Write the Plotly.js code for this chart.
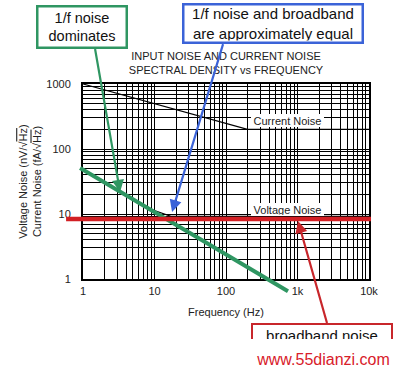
<!DOCTYPE html>
<html><head><meta charset="utf-8">
<script src="https://cdn.plot.ly/plotly-3.0.1.min.js"></script>
<style>html,body{margin:0;padding:0;background:#fff;}#chart{width:396px;height:368px;}</style>
</head><body><div id="chart"></div>
<script>
// ---- data ----
const currentFreq = [1, 200, 10000];
const currentNoise = [1000, 200, 200];
const voltageFreq = [1, 9.5, 17, 10000];
const voltageNoise = [47, 11.5, 9.2, 9.2];
const flickerFreq = [0.91, 30, 736];
const flickerNoise = [51, 5.25, 0.65];
const broadbandFreq = [0.58, 100, 10660];
const broadbandNoise = [8.4, 8.4, 8.4];
const xTickLabels = ['1', '10', '100', '1k', '10k'];
const yTickLabels = ['1', '10', '100', '1000'];
const calloutFreq = [3.3, 17.6, 1016];
const calloutNoise = [21.8, 10.7, 7.8];
const calloutText = ['1/f noise<br>dominates', '1/f noise and broadband<br>are approximately equal', 'broadband noise'];
const curveLabelFreq = [736, 736];
const curveLabelNoise = [270, 11.9];
const curveLabelText = ['Current Noise', 'Voltage Noise'];

const FONT = 'Arial, "Liberation Sans", sans-serif';
const GREEN = '#2f9662', BLUE = '#3b63d8', RED = '#d21f24';

function logTicks(labels) {
  const vals = [], text = [];
  for (let d = 0; d < labels.length - 1; d++) {
    for (let m = 1; m <= 9; m++) { vals.push(m * Math.pow(10, d)); text.push(m === 1 ? labels[d] : ''); }
  }
  vals.push(Math.pow(10, labels.length - 1)); text.push(labels[labels.length - 1]);
  return {vals, text};
}
const xt = logTicks(xTickLabels), yt = logTicks(yTickLabels);

const traces = [
  {x: currentFreq, y: currentNoise, type: 'scatter', mode: 'lines', line: {color: '#000', width: 1.2}, hoverinfo: 'skip'},
  {x: voltageFreq, y: voltageNoise, type: 'scatter', mode: 'lines', line: {color: '#000', width: 1.2}, hoverinfo: 'skip'}
];

function segLine(fx, fy, hi, ti, color, width) {
  return {x: fx[hi], y: fy[hi], xref: 'x', yref: 'y', ax: fx[ti], ay: fy[ti], axref: 'x', ayref: 'y',
    text: '', showarrow: true, arrowhead: 0, arrowwidth: width, arrowcolor: color, standoff: 0,
    borderpad: 0, borderwidth: 0};
}
function lg(v) { return Math.log10(v); }

const annotations = [];
// curve labels
for (let i = 0; i < curveLabelText.length; i++) {
  annotations.push({x: lg(curveLabelFreq[i]), y: lg(curveLabelNoise[i]), xref: 'x', yref: 'y', text: curveLabelText[i],
    xanchor: 'center', yanchor: 'middle',
    showarrow: false, bgcolor: '#fff', borderpad: 1, borderwidth: 0, width: 71, height: 11,
    font: {family: FONT, size: 11, color: '#222'}});
}
// green 1/f line and red broadband line (unclipped, through the axis scales)
const fxl = flickerFreq.map(lg), fyl = flickerNoise.map(lg);
annotations.push(segLine(fxl, fyl, 1, 0, GREEN, 4));
annotations.push(segLine(fxl, fyl, 1, 2, GREEN, 4));
const bxl = broadbandFreq.map(lg), byl = broadbandNoise.map(lg);
annotations.push(segLine(bxl, byl, 1, 0, RED, 4.5));
annotations.push(segLine(bxl, byl, 1, 2, RED, 4.5));
// callout arrows
const arrowTail = [[-25, -143], [51, -168], [29, 102]];
const arrowColor = [GREEN, BLUE, '#c8262b'];
for (let i = 0; i < 3; i++) {
  annotations.push({x: lg(calloutFreq[i]), y: lg(calloutNoise[i]), xref: 'x', yref: 'y', text: '',
    showarrow: true, ax: arrowTail[i][0], ay: arrowTail[i][1], arrowhead: 2, arrowsize: 1.1,
    arrowwidth: 2.2, arrowcolor: arrowColor[i], standoff: 0, borderpad: 0, borderwidth: 0});
}
// callout boxes (paper coordinates: plot area x 83..369, y 84..279)
function px(x) { return (x - 83) / 286; }
function py(y) { return (279 - y) / 195; }
annotations.push({x: px(82), y: py(27), xref: 'paper', yref: 'paper', xanchor: 'center', yanchor: 'middle',
  text: calloutText[0], showarrow: false,
  width: 85, height: 37, bordercolor: GREEN, borderwidth: 2.5, borderpad: 1, bgcolor: '#fff',
  font: {family: FONT, size: 14.5, color: '#111'}});
annotations.push({x: px(273), y: py(23.5), xref: 'paper', yref: 'paper', xanchor: 'center', yanchor: 'middle',
  text: calloutText[1], showarrow: false,
  width: 175, height: 34, bordercolor: BLUE, borderwidth: 2.5, borderpad: 1, bgcolor: '#fff',
  font: {family: FONT, size: 15, color: '#111'}});
annotations.push({x: px(322), y: py(323), xref: 'paper', yref: 'paper', xanchor: 'center', yanchor: 'top',
  text: calloutText[2], showarrow: false,
  width: 134, height: 36, valign: 'top', bordercolor: '#c8262b', borderwidth: 2, borderpad: 2, bgcolor: '#fff',
  font: {family: FONT, size: 15, color: '#111'}});
// watermark strip
annotations.push({x: px(323), y: py(339), xref: 'paper', yref: 'paper', xanchor: 'center', yanchor: 'top',
  text: 'www.55dianzi.com', showarrow: false,
  width: 150, height: 29, valign: 'bottom', borderpad: 0, borderwidth: 0, bgcolor: '#fff',
  font: {family: FONT, size: 16, color: '#d8202a'}});

const layout = {
  width: 396, height: 368,
  margin: {l: 83, r: 27, t: 84, b: 89, pad: 0},
  paper_bgcolor: '#fff', plot_bgcolor: '#fff',
  showlegend: false,
  font: {family: FONT, size: 11, color: '#222'},
  title: {text: 'INPUT NOISE AND CURRENT NOISE<br>SPECTRAL DENSITY vs FREQUENCY',
    font: {family: FONT, size: 11, color: '#222'}, x: 226 / 396, xref: 'container', xanchor: 'center',
    y: 1 - 60 / 368, yref: 'container', yanchor: 'middle'},
  xaxis: {type: 'log', range: [0, 4], tickmode: 'array', tickvals: xt.vals, ticktext: xt.text,
    showgrid: true, gridcolor: '#000', gridwidth: 1, ticks: '', ticklabelstandoff: 1,
    showline: true, linecolor: '#000', linewidth: 2, mirror: true, zeroline: false,
    tickfont: {family: FONT, size: 11, color: '#222'},
    title: {text: 'Frequency (Hz)', font: {family: FONT, size: 11, color: '#222'}, standoff: 12}},
  yaxis: {type: 'log', range: [0, 3], tickmode: 'array', tickvals: yt.vals, ticktext: yt.text,
    showgrid: true, gridcolor: '#000', gridwidth: 1, ticks: '', ticklabelstandoff: 8,
    showline: true, linecolor: '#000', linewidth: 2, mirror: true, zeroline: false,
    tickfont: {family: FONT, size: 11, color: '#222'},
    title: {text: 'Voltage Noise (nV/√<span style="text-decoration:overline">Hz</span>)<br>Current Noise (fA/√<span style="text-decoration:overline">Hz</span>)',
      font: {family: FONT, size: 11, color: '#222'}, standoff: 2}},
  annotations: annotations
};

Plotly.newPlot('chart', traces, layout, {staticPlot: true, displayModeBar: false});
</script>
</body></html>
